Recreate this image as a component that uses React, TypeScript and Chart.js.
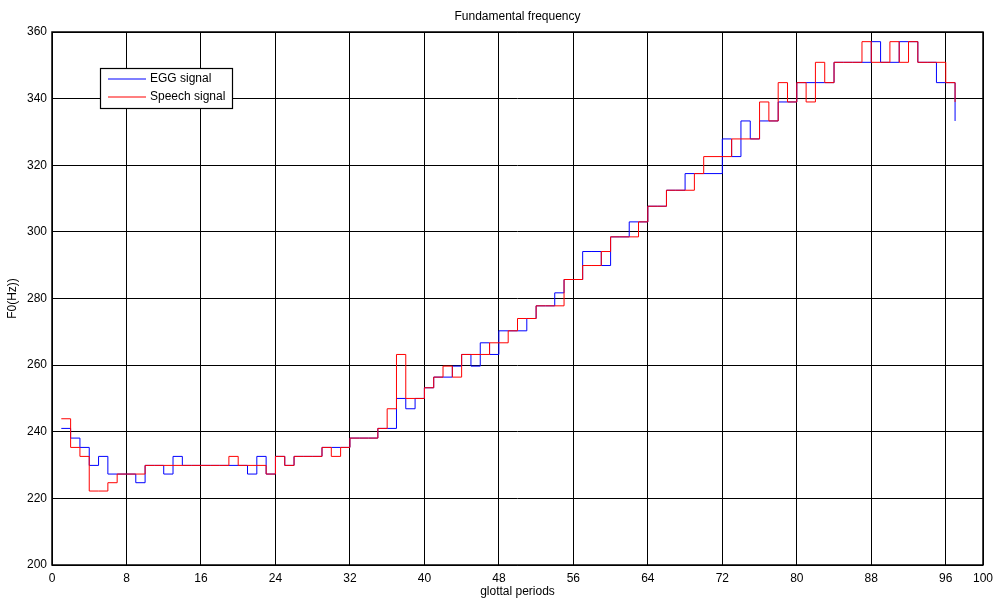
import { useEffect, useRef } from "react";
import { Chart, registerables } from "chart.js";

Chart.register(...registerables);

// Glottal period index (x axis)
const periods = [
  1, 2, 3, 4, 5, 6, 7, 8, 9, 10,
  11, 12, 13, 14, 15, 16, 17, 18, 19, 20,
  21, 22, 23, 24, 25, 26, 27, 28, 29, 30,
  31, 32, 33, 34, 35, 36, 37, 38, 39, 40,
  41, 42, 43, 44, 45, 46, 47, 48, 49, 50,
  51, 52, 53, 54, 55, 56, 57, 58, 59, 60,
  61, 62, 63, 64, 65, 66, 67, 68, 69, 70,
  71, 72, 73, 74, 75, 76, 77, 78, 79, 80,
  81, 82, 83, 84, 85, 86, 87, 88, 89, 90,
  91, 92, 93, 94, 95, 96, 97,
];

// F0 estimated from the EGG signal (Hz)
const eggF0 = [
  241.0, 238.1, 235.3, 229.9, 232.6, 227.3, 227.3, 227.3, 224.7, 229.9,
  229.9, 227.3, 232.6, 229.9, 229.9, 229.9, 229.9, 229.9, 229.9, 229.9,
  227.3, 232.6, 227.3, 232.6, 229.9, 232.6, 232.6, 232.6, 235.3, 235.3,
  235.3, 238.1, 238.1, 238.1, 241.0, 241.0, 250.0, 246.9, 250.0, 253.2,
  256.4, 256.4, 259.7, 263.2, 259.7, 266.7, 263.2, 270.3, 270.3, 270.3,
  274.0, 277.8, 277.8, 281.7, 285.7, 285.7, 294.1, 294.1, 289.9, 298.5,
  298.5, 303.0, 303.0, 307.7, 307.7, 312.5, 312.5, 317.5, 317.5, 317.5,
  317.5, 327.9, 322.6, 333.3, 327.9, 333.3, 333.3, 339.0, 339.0, 344.8,
  344.8, 344.8, 344.8, 350.9, 350.9, 350.9, 350.9, 357.1, 350.9, 350.9,
  357.1, 357.1, 350.9, 350.9, 344.8, 344.8, 333.3,
];

// F0 estimated from the speech signal (Hz)
const speechF0 = [
  243.9, 235.3, 232.6, 222.2, 222.2, 224.7, 227.3, 227.3, 227.3, 229.9,
  229.9, 229.9, 229.9, 229.9, 229.9, 229.9, 229.9, 229.9, 232.6, 229.9,
  229.9, 229.9, 227.3, 232.6, 229.9, 232.6, 232.6, 232.6, 235.3, 232.6,
  235.3, 238.1, 238.1, 238.1, 241.0, 246.9, 263.2, 250.0, 250.0, 253.2,
  256.4, 259.7, 256.4, 263.2, 263.2, 263.2, 266.7, 266.7, 270.3, 274.0,
  274.0, 277.8, 277.8, 277.8, 285.7, 285.7, 289.9, 289.9, 294.1, 298.5,
  298.5, 298.5, 303.0, 307.7, 307.7, 312.5, 312.5, 312.5, 317.5, 322.6,
  322.6, 322.6, 327.9, 327.9, 327.9, 339.0, 333.3, 344.8, 339.0, 344.8,
  339.0, 350.9, 344.8, 350.9, 350.9, 350.9, 357.1, 350.9, 350.9, 357.1,
  350.9, 357.1, 350.9, 350.9, 350.9, 344.8, 339.0,
];

const xTicks = [0, 8, 16, 24, 32, 40, 48, 56, 64, 72, 80, 88, 96, 100];
const yTicks = [200, 220, 240, 260, 280, 300, 320, 340, 360];

const chartTitle = "Fundamental frequency";
const xLabel = "glottal periods";
const yLabel = "F0(Hz))";
const eggLabel = "EGG signal";
const speechLabel = "Speech signal";

const EGG_COLOR = "#0000ff";
const SPEECH_COLOR = "#ff0000";

const FONT = "'Liberation Sans', Arial, Helvetica, sans-serif";

const legendEntries = [
  { label: eggLabel, color: EGG_COLOR },
  { label: speechLabel, color: SPEECH_COLOR },
];

// Draws the axes box, the title and the in-plot legend
const framePlugin = {
  id: "frame",
  afterDraw(chart: any) {
    const { ctx, chartArea } = chart;
    const { left, right, top, bottom } = chartArea;
    ctx.save();

    ctx.strokeStyle = "#000";
    ctx.lineWidth = 1.5;
    ctx.strokeRect(left, top, right - left, bottom - top);

    ctx.fillStyle = "#000";
    ctx.font = `12px ${FONT}`;
    ctx.textAlign = "center";
    ctx.textBaseline = "middle";
    ctx.fillText(chartTitle, (left + right) / 2, 17);

    // legend
    const bx = 100.5;
    const by = 68.5;
    const bw = 132;
    const bh = 40;
    ctx.fillStyle = "#fff";
    ctx.fillRect(bx, by, bw, bh);
    ctx.lineWidth = 1.2;
    ctx.strokeStyle = "#000";
    ctx.strokeRect(bx, by, bw, bh);

    legendEntries.forEach((e, i) => {
      const y = 79 + i * 18;
      ctx.strokeStyle = e.color;
      ctx.lineWidth = 1.2;
      ctx.beginPath();
      ctx.moveTo(108, y);
      ctx.lineTo(146, y);
      ctx.stroke();
      ctx.fillStyle = "#000";
      ctx.textAlign = "left";
      ctx.textBaseline = "middle";
      ctx.fillText(e.label, 150, y);
    });

    ctx.restore();
  },
};

export default function App() {
  const canvasRef = useRef<HTMLCanvasElement | null>(null);

  useEffect(() => {
    document.body.style.margin = "0";
    const canvas = canvasRef.current;
    if (!canvas) return;

    const chart = new Chart(canvas, {
      type: "line",
      data: {
        datasets: [
          {
            label: eggLabel,
            data: periods.map((p, i) => ({ x: p, y: eggF0[i] })),
            borderColor: EGG_COLOR,
            borderWidth: 1,
            pointRadius: 0,
            stepped: "before",
            fill: false,
            order: 1,
          },
          {
            label: speechLabel,
            data: periods.map((p, i) => ({ x: p, y: speechF0[i] })),
            borderColor: SPEECH_COLOR,
            borderWidth: 1,
            pointRadius: 0,
            stepped: "before",
            fill: false,
            order: 0,
          },
        ],
      },
      options: {
        animation: false,
        responsive: false,
        devicePixelRatio: 1,
        layout: { padding: { top: 32, right: 0, bottom: 0, left: 0 } },
        plugins: {
          legend: { display: false },
          title: { display: false },
          tooltip: { enabled: false },
        },
        scales: {
          x: {
            type: "linear",
            min: 0,
            max: 100,
            afterBuildTicks: (scale: any) => {
              scale.ticks = xTicks.map((v) => ({ value: v }));
            },
            afterFit: (scale: any) => {
              scale.height = 36;
              scale.paddingLeft = 0;
              scale.paddingRight = 10;
            },
            grid: { color: "#000", lineWidth: 1, drawTicks: false },
            border: { display: false },
            ticks: {
              color: "#000",
              padding: 6,
              maxRotation: 0,
              autoSkip: false,
              font: { family: FONT, size: 12 },
            },
            title: {
              display: true,
              text: xLabel,
              color: "#000",
              padding: { top: 0, bottom: 2 },
              font: { family: FONT, size: 12 },
            },
          },
          y: {
            type: "linear",
            min: 200,
            max: 360,
            afterBuildTicks: (scale: any) => {
              scale.ticks = yTicks.map((v) => ({ value: v }));
            },
            afterFit: (scale: any) => {
              scale.width = 52;
            },
            grid: { color: "#000", lineWidth: 1, drawTicks: false },
            border: { display: false },
            ticks: {
              color: "#000",
              padding: 5,
              autoSkip: false,
              font: { family: FONT, size: 12 },
            },
            title: {
              display: true,
              text: yLabel,
              color: "#000",
              padding: { top: 5, bottom: 0 },
              font: { family: FONT, size: 12 },
            },
          },
        },
      },
      plugins: [framePlugin],
    });

    return () => chart.destroy();
  }, []);

  return (
    <div style={{ width: 993, height: 601, background: "#fff" }}>
      <canvas ref={canvasRef} width={993} height={601} />
    </div>
  );
}
